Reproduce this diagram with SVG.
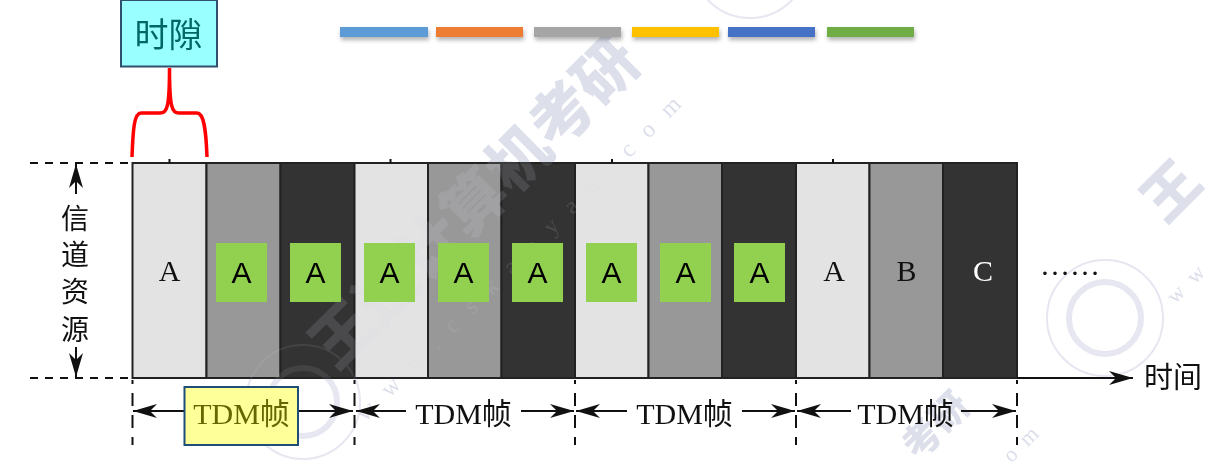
<svg xmlns="http://www.w3.org/2000/svg" width="1219" height="469" viewBox="0 0 1219 469">
<style>
.t{font-family:"Liberation Serif","Noto Sans CJK SC",serif;fill:#111;font-size:30px;text-anchor:middle}
.z{font-family:"Noto Sans CJK SC","Liberation Sans",sans-serif;font-weight:400;fill:#111;text-anchor:middle}
.s{font-family:"Liberation Sans","Noto Sans CJK SC",sans-serif;font-size:30px;text-anchor:middle;fill:#000}
.c{stroke:#222;stroke-width:2}
.g{fill:#92d050}
.l{stroke:#111;stroke-width:2;fill:none}
.d{stroke:#111;stroke-width:2;fill:none;stroke-dasharray:8 7}
.v{stroke:#111;stroke-width:2;fill:none;stroke-dasharray:13 9;stroke-dashoffset:9}
.wm{font-family:"Noto Sans CJK SC",sans-serif;font-weight:900;fill:#d6d9e8;text-anchor:middle}
.wu{font-family:"Liberation Serif",serif;fill:#d6d9e8;text-anchor:middle}
.bar{filter:url(#sh)}
</style>
<defs>
<marker id="ah" markerUnits="userSpaceOnUse" markerWidth="26" markerHeight="16" refX="24" refY="7" orient="auto-start-reverse"><path d="M0 0L24 7L0 14L7 7Z" fill="#111"/></marker>
<filter id="sh" x="-10%" y="-50%" width="120%" height="220%"><feDropShadow dx="1" dy="3" stdDeviation="2" flood-color="#000" flood-opacity=".3"/></filter>
<g id="wmark">
<text class="wm" font-size="62" transform="translate(490 218) rotate(-45)">王道计算机考研</text>
<text class="wu" font-size="24" letter-spacing="17" transform="translate(530 258) rotate(-45)">www.cskaoyan.com</text>
<text class="wm" font-size="56" transform="translate(1185 205) rotate(-45)">王</text>
<text class="wm" font-size="38" transform="translate(945 435) rotate(-45)">考研</text>
<text class="wu" font-size="22" letter-spacing="12" transform="translate(1030 445) rotate(-45)">om</text>
<text class="wu" font-size="22" letter-spacing="12" transform="translate(1195 285) rotate(-45)">ww</text>
<g fill="none" stroke="#d6d9e8" opacity=".7">
<circle cx="1105" cy="318" r="58" stroke-width="2"/><circle cx="1105" cy="318" r="36" stroke-width="6"/>
<circle cx="303" cy="402" r="57" stroke-width="2"/><circle cx="303" cy="402" r="34" stroke-width="6"/>
<circle cx="750" cy="-40" r="58" stroke-width="2"/>
</g>
</g>
</defs>
<rect width="1219" height="469" fill="#fff"/>
<use href="#wmark" opacity=".8"/>
<g id="slots">
<rect x="132.500" y="163" width="74" height="215" fill="#e3e3e3" class="c"/>
<rect x="206.500" y="163" width="74" height="215" fill="#989898" class="c"/>
<rect x="280.500" y="163" width="74" height="215" fill="#333" class="c"/>
<rect x="354.500" y="163" width="73.500" height="215" fill="#e3e3e3" class="c"/>
<rect x="428" y="163" width="73.500" height="215" fill="#989898" class="c"/>
<rect x="501.500" y="163" width="73.500" height="215" fill="#333" class="c"/>
<rect x="575" y="163" width="73.500" height="215" fill="#e3e3e3" class="c"/>
<rect x="648.500" y="163" width="73.500" height="215" fill="#989898" class="c"/>
<rect x="722" y="163" width="74" height="215" fill="#333" class="c"/>
<rect x="796" y="163" width="73.500" height="215" fill="#e3e3e3" class="c"/>
<rect x="869.500" y="163" width="73.500" height="215" fill="#989898" class="c"/>
<rect x="943" y="163" width="74" height="215" fill="#333" class="c"/>
</g>
<use href="#wmark" opacity=".14"/>
<g id="connectors">
<path class="d" d="M30 163H132M30 378H132"/>
<path class="l" d="M1017 378H1133" marker-end="url(#ah)"/>
<path class="l" d="M76 194V164" marker-end="url(#ah)"/>
<path class="l" d="M76 347V377" marker-end="url(#ah)"/>
<path class="l" stroke-width="1.500" d="M169.500 163V159M390.500 163V159M612 163V159M833 163V159"/>
<path class="v" d="M132.500 380V445M354.500 380V445M575 380V445M796 380V445M1017 380V445"/>
<path class="l" d="M133 411H185" marker-start="url(#ah)"/>
<path class="l" d="M298 411H353" marker-end="url(#ah)"/>
<path class="l" d="M356 411H406" marker-start="url(#ah)"/>
<path class="l" d="M521 411H574" marker-end="url(#ah)"/>
<path class="l" d="M576 411H627" marker-start="url(#ah)"/>
<path class="l" d="M742 411H795" marker-end="url(#ah)"/>
<path class="l" d="M797 411H851" marker-start="url(#ah)"/>
<path class="l" d="M961 411H1016" marker-end="url(#ah)"/>
<path fill="none" stroke="#f00" stroke-width="3.500" d="M132 157C133 130 134 113 141 113H160C167 113 169.500 108 169.500 68C169.500 108 172 113 179 113H197C204 113 206 130 207 157"/>
</g>
<g id="labels-a">
<rect class="g" x="216" y="243" width="51" height="59"/><text class="s" x="241.500" y="283">A</text>
<rect class="g" x="290" y="243" width="51" height="59"/><text class="s" x="315.500" y="283">A</text>
<rect class="g" x="364" y="243" width="51" height="59"/><text class="s" x="389.500" y="283">A</text>
<rect class="g" x="438" y="243" width="51" height="59"/><text class="s" x="463.500" y="283">A</text>
<rect class="g" x="512" y="243" width="51" height="59"/><text class="s" x="537.500" y="283">A</text>
<rect class="g" x="586" y="243" width="51" height="59"/><text class="s" x="611.500" y="283">A</text>
<rect class="g" x="660" y="243" width="51" height="59"/><text class="s" x="685.500" y="283">A</text>
<rect class="g" x="734" y="243" width="51" height="59"/><text class="s" x="759.500" y="283">A</text>
<text class="t" x="169.500" y="281">A</text>
<text class="t" x="834" y="281">A</text>
<text class="t" x="906.500" y="281">B</text>
<text class="t" x="983" y="281" style="fill:#fff">C</text>
<text class="t" x="1070" y="275">……</text>
</g>
<g id="axis-labels">
<text class="z" font-size="28" x="75" y="229">信</text>
<text class="z" font-size="28" x="75" y="265">道</text>
<text class="z" font-size="28" x="75" y="302">资</text>
<text class="z" font-size="28" x="75" y="340">源</text>
<text class="z" font-size="29" x="1173" y="388">时间</text>
</g>
<g id="frame-labels">
<text class="t" x="463.500" y="424">TDM<tspan class="z" font-size="30">帧</tspan></text>
<text class="t" x="684.500" y="424">TDM<tspan class="z" font-size="30">帧</tspan></text>
<text class="t" x="905.500" y="424">TDM<tspan class="z" font-size="30">帧</tspan></text>
</g>
<g id="node-slot">
<rect x="121" y="0" width="96" height="66.500" fill="#99ffff" stroke="#2f4f6f" stroke-width="2"/>
<text class="z" font-size="34" x="168.500" y="47" style="fill:#006666">时隙</text>
</g>
<g id="node-tdm">
<rect x="184.500" y="387" width="113.500" height="58" fill="#ffff99" stroke="#1f4e79" stroke-width="2"/>
<text class="t" x="241.500" y="424" style="fill:#666600">TDM<tspan class="z" font-size="30" style="fill:#666600">帧</tspan></text>
</g>
<g id="legend">
<rect class="bar" x="340" y="27" width="88" height="10" fill="#5b9bd5"/>
<rect class="bar" x="436" y="27" width="87" height="10" fill="#ed7d31"/>
<rect class="bar" x="534" y="27" width="87" height="10" fill="#a5a5a5"/>
<rect class="bar" x="632" y="27" width="87" height="10" fill="#ffc000"/>
<rect class="bar" x="728" y="27" width="87" height="10" fill="#4472c4"/>
<rect class="bar" x="827" y="27" width="87" height="10" fill="#70ad47"/>
</g>
</svg>
